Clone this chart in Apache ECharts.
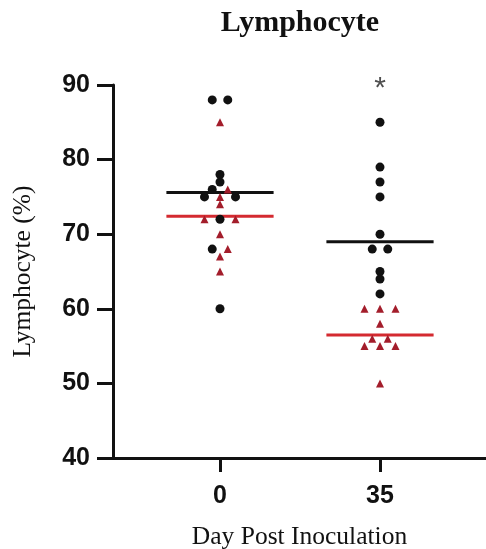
<!DOCTYPE html>
<html>
<head>
<meta charset="utf-8">
<title>Lymphocyte</title>
<script src="https://cdn.jsdelivr.net/npm/echarts@6/dist/echarts.min.js"></script>
<style>
  html, body { margin: 0; padding: 0; background: #fff; }
  #chart { width: 486px; height: 549px; }
</style>
</head>
<body>
<div id="chart"></div>
<script>
// 数据
const days = ['0', '35']
const blackDay0 = [88, 88, 78, 77, 76, 75, 75, 72, 68, 60]
const blackDay35 = [85, 79, 77, 75, 70, 68, 68, 65, 64, 62]
const redDay0 = [85, 76, 75, 74, 72, 72, 70, 68, 67, 65]
const redDay35 = [60, 60, 60, 58, 56, 56, 55, 55, 55, 50]
const blackLines = [75.6, 69.0]
const redLines = [72.4, 56.5]
const sigMarks = ['', '*']

const spread = 0.097   // horizontal step between tied points (x units)
const halfWidth = 0.335 // half length of the median line

// spread tied values sideways, like the prism scatter plot
const layoutDay = function (dayIndex, black, red) {
  let bins = {}
  black.forEach(v => { (bins[v] = bins[v] || []).push('black') })
  red.forEach(v => { (bins[v] = bins[v] || []).push('red') })
  let out = { black: [], red: [] }
  Object.keys(bins).forEach(key => {
    let list = bins[key]
    if (list.length === 3) {
      let nb = list.filter(s => s === 'black').length
      if (nb === 1) list = ['red', 'black', 'red']
      if (nb === 2) list = ['black', 'red', 'black']
    }
    list.forEach((s, i) => {
      out[s].push([dayIndex + (i - (list.length - 1) / 2) * spread, Number(key)])
    })
  })
  return out
}

const d0 = layoutDay(0, blackDay0, redDay0)
const d35 = layoutDay(1, blackDay35, redDay35)

const lineSeries = function (name, values, color) {
  return {
    name: name,
    type: 'custom',
    z: 1,
    data: values.map((v, i) => [i, v]),
    renderItem: function (params, api) {
      let a = api.coord([api.value(0) - halfWidth, api.value(1)])
      let b = api.coord([api.value(0) + halfWidth, api.value(1)])
      return {
        type: 'line',
        shape: { x1: a[0], y1: a[1], x2: b[0], y2: b[1] },
        style: { stroke: color, lineWidth: 3 }
      }
    }
  }
}

const axisFont = { fontFamily: 'Liberation Sans', fontWeight: 'bold', fontSize: 25, color: '#111' }
const nameFont = { fontFamily: 'Liberation Serif', fontSize: 25.5, color: '#111' }

let chart = echarts.init(document.getElementById('chart'))
chart.setOption({
  animation: false,
  title: {
    text: 'Lymphocyte',
    left: 300,
    top: 8,
    padding: 0,
    textAlign: 'center',
    textStyle: { fontFamily: 'Liberation Serif', fontWeight: 'bold', fontSize: 30, color: '#111' }
  },
  grid: { left: 113, right: 0, top: 85, bottom: 91, outerBoundsMode: 'none', containLabel: false },
  xAxis: {
    type: 'value',
    min: -0.66875,
    max: 1.6625,
    splitLine: { show: false },
    axisLine: { show: true, onZero: false, lineStyle: { color: '#111', width: 3 } },
    axisTick: { show: true, length: 14, customValues: [0, 1], lineStyle: { color: '#111', width: 3 } },
    axisLabel: Object.assign({ customValues: [0, 1], margin: 26, formatter: v => days[Math.round(v)] }, axisFont),
    name: 'Day Post Inoculation',
    nameLocation: 'middle',
    nameGap: 66,
    nameTextStyle: nameFont
  },
  yAxis: {
    type: 'value',
    min: 40,
    max: 90,
    interval: 10,
    splitLine: { show: false },
    axisLine: { show: true, onZero: false, lineStyle: { color: '#111', width: 3 } },
    axisTick: { show: true, length: 16, lineStyle: { color: '#111', width: 3 } },
    axisLabel: Object.assign({ margin: 23 }, axisFont),
    name: 'Lymphocyte (%)',
    nameLocation: 'middle',
    nameGap: 77,
    nameTextStyle: nameFont
  },
  series: [
    lineSeries('black median', blackLines, '#111'),
    lineSeries('red median', redLines, '#d42a30'),
    {
      name: 'black',
      type: 'scatter',
      z: 3,
      symbol: 'circle',
      symbolSize: 9,
      itemStyle: { color: '#111', opacity: 1 },
      data: d0.black.concat(d35.black)
    },
    {
      name: 'red',
      type: 'scatter',
      z: 3,
      symbol: 'triangle',
      symbolSize: 8,
      itemStyle: { color: '#a31d2b', opacity: 1 },
      data: d0.red.concat(d35.red)
    },
    {
      name: 'significance',
      type: 'scatter',
      clip: false,
      symbolSize: 0,
      data: sigMarks.map((m, i) => [i, 90]),
      label: {
        show: true,
        position: 'inside',
        offset: [0, 4],
        formatter: p => sigMarks[p.dataIndex],
        fontFamily: 'Liberation Sans',
        fontSize: 30,
        color: '#222'
      }
    }
  ]
})
</script>
</body>
</html>
